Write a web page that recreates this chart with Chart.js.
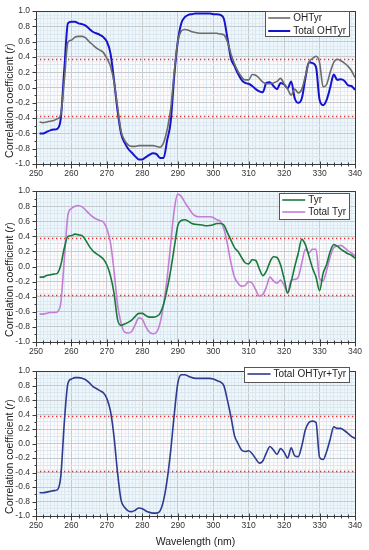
<!DOCTYPE html>
<html>
<head>
<meta charset="utf-8">
<script src="https://cdn.jsdelivr.net/npm/chart.js@4.4.0/dist/chart.umd.min.js"></script>
<style>
html,body{margin:0;padding:0;background:#fff;}
body{width:369px;height:550px;position:relative;overflow:hidden;}
.panel{position:absolute;left:0;width:369px;}
canvas{display:block;}
</style>
</head>
<body>
<div class="panel" style="top:0;height:180px"><canvas id="c1" width="369" height="180"></canvas></div>
<div class="panel" style="top:180px;height:180px"><canvas id="c2" width="369" height="180"></canvas></div>
<div class="panel" style="top:360px;height:190px"><canvas id="c3" width="369" height="190"></canvas></div>
<script>
// ---- Data ----
const wavelengths = [251,252,253,254,255,256,257,258,259,260,261,262,263,264,265,266,267,268,269,270,
  271,272,273,274,275,276,277,278,279,280,281,282,283,284,285,286,287,288,289,290,
  291,292,293,294,295,296,297,298,299,300,301,302,303,304,305,306,307,308,309,310,
  311,312,313,314,315,316,317,318,319,320,321,322,323,324,325,326,327,328,329,330,
  331,332,333,334,335,336,337,338,339,340];

const ohtyr = [-0.45,-0.46,-0.45,-0.44,-0.43,-0.41,-0.35,0.10,0.59,0.62,0.66,0.67,0.67,0.65,0.60,0.56,0.52,0.49,0.46,0.38,
  0.28,0.08,-0.25,-0.57,-0.69,-0.75,-0.77,-0.77,-0.76,-0.76,-0.76,-0.76,-0.76,-0.77,-0.78,-0.72,-0.55,-0.28,0.20,0.60,
  0.74,0.76,0.75,0.73,0.72,0.71,0.71,0.71,0.71,0.71,0.71,0.70,0.69,0.60,0.44,0.31,0.21,0.14,0.10,0.10,
  0.17,0.16,0.12,0.07,0.05,0.05,0.06,0.08,0.12,0.05,-0.02,-0.10,-0.02,-0.07,-0.02,0.15,0.33,0.38,0.41,0.33,
  0.01,0.04,0.20,0.33,0.37,0.35,0.32,0.28,0.22,0.13];

const totalOhtyr = [-0.60,-0.60,-0.58,-0.56,-0.55,-0.54,-0.40,0.25,0.84,0.86,0.86,0.84,0.83,0.81,0.77,0.73,0.71,0.69,0.66,0.60,
  0.45,0.10,-0.30,-0.60,-0.72,-0.80,-0.85,-0.90,-0.94,-0.94,-0.91,-0.88,-0.86,-0.87,-0.92,-0.92,-0.69,-0.45,0.15,0.60,
  0.84,0.92,0.95,0.96,0.97,0.97,0.97,0.97,0.97,0.96,0.96,0.95,0.90,0.65,0.38,0.28,0.18,0.10,0.06,0.05,
  0.02,-0.02,-0.05,-0.06,0.06,0.07,0.02,-0.02,0.06,0.04,-0.01,0.08,-0.14,-0.20,-0.14,0.12,0.33,0.32,0.27,-0.16,
  -0.23,-0.16,0.00,0.17,0.10,0.11,0.09,0.03,0.02,-0.03];

const tyr = [-0.14,-0.14,-0.12,-0.11,-0.10,-0.09,0.02,0.25,0.40,0.41,0.43,0.42,0.41,0.35,0.27,0.21,0.17,0.14,0.10,0.02,
  -0.12,-0.35,-0.70,-0.78,-0.76,-0.74,-0.71,-0.66,-0.62,-0.62,-0.65,-0.67,-0.67,-0.66,-0.62,-0.50,-0.30,-0.05,0.25,0.54,
  0.61,0.62,0.60,0.57,0.56,0.555,0.55,0.54,0.545,0.555,0.57,0.57,0.55,0.45,0.35,0.25,0.20,0.12,0.05,0.035,
  0.09,0.08,-0.03,-0.12,-0.06,0.06,0.13,0.12,0.02,-0.16,-0.35,-0.20,0.00,0.18,0.36,0.29,0.14,-0.02,-0.14,-0.32,
  -0.09,0.03,0.20,0.29,0.27,0.23,0.20,0.17,0.15,0.11];

const totalTyr = [-0.63,-0.63,-0.62,-0.61,-0.61,-0.60,-0.48,0.10,0.68,0.77,0.80,0.81,0.79,0.75,0.70,0.66,0.63,0.61,0.59,0.50,
  0.32,-0.05,-0.50,-0.75,-0.87,-0.88,-0.86,-0.77,-0.68,-0.70,-0.80,-0.87,-0.89,-0.87,-0.75,-0.50,-0.15,0.30,0.75,0.96,
  0.93,0.85,0.78,0.71,0.67,0.66,0.66,0.66,0.66,0.65,0.62,0.60,0.50,0.30,0.05,-0.14,-0.22,-0.26,-0.25,-0.20,
  -0.22,-0.31,-0.39,-0.37,-0.27,-0.14,-0.19,-0.22,-0.18,-0.25,-0.35,-0.18,-0.17,-0.14,0.05,0.23,0.18,0.23,0.23,-0.16,
  -0.19,-0.05,0.13,0.25,0.27,0.28,0.25,0.21,0.18,0.14];

const totalBoth = [-0.68,-0.68,-0.67,-0.66,-0.65,-0.64,-0.45,0.30,0.83,0.89,0.91,0.91,0.90,0.88,0.84,0.79,0.76,0.73,0.70,0.62,
  0.45,0.10,-0.40,-0.78,-0.88,-0.93,-0.94,-0.92,-0.89,-0.90,-0.93,-0.95,-0.96,-0.96,-0.93,-0.78,-0.50,-0.10,0.40,0.83,
  0.95,0.95,0.93,0.91,0.90,0.90,0.90,0.90,0.90,0.89,0.87,0.85,0.80,0.60,0.37,0.11,0.00,-0.09,-0.11,-0.10,
  -0.14,-0.21,-0.27,-0.24,-0.13,-0.04,-0.09,-0.15,-0.07,-0.12,-0.20,-0.06,-0.17,-0.18,-0.03,0.19,0.29,0.31,0.29,-0.19,
  -0.22,-0.11,0.06,0.23,0.21,0.21,0.18,0.14,0.10,0.07];

const criticalR = 0.375;
const xTickLabels = ['250','260','270','280','290','300','310','320','330','340'];
const yTickLabels = ['-1.0','-0.8','-0.6','-0.4','-0.2','0.0','0.2','0.4','0.6','0.8','1.0'];

const panels = [
  {id:'c1', padTop:8, xH:16, xTitle:false, legend:{right:349,y:11,h:25,rowH:13,lineW:22},
   series:[{label:'OHTyr', data:ohtyr, color:'#6b6b6b', width:1.6},
           {label:'Total OHTyr', data:totalOhtyr, color:'#1414cc', width:2}]},
  {id:'c2', padTop:7, xH:18, xTitle:false, legend:{right:349,y:13,h:26,rowH:12,lineW:23},
   series:[{label:'Tyr', data:tyr, color:'#177a3c', width:1.6},
           {label:'Total Tyr', data:totalTyr, color:'#c47ed6', width:1.6}]},
  {id:'c3', padTop:1, xH:34, xTitle:true, legend:{right:349,y:7,h:15,rowH:13,lineW:23},
   series:[{label:'Total OHTyr+Tyr', data:totalBoth, color:'#2e3b8e', width:1.6}]}
];

const FONT = '"Liberation Sans", Arial, sans-serif';

const decor = {
  id:'decor',
  beforeDraw(chart){
    const {ctx, chartArea:a, scales:{x,y}} = chart;
    ctx.save();
    ctx.fillStyle = '#edf6fb';
    ctx.fillRect(a.left, a.top, a.right-a.left, a.bottom-a.top);
    const yt = y.getPixelForValue(criticalR), yb = y.getPixelForValue(-criticalR);
    ctx.fillStyle = '#fdfbfb';
    ctx.fillRect(a.left, yt, a.right-a.left, yb-yt);
    // finest grid (every 1 nm / 0.05)
    ctx.strokeStyle = 'rgba(200,222,236,0.35)';
    ctx.lineWidth = 1;
    ctx.beginPath();
    for (let v=251; v<340; v++){ if (v%2===0) continue; const px=Math.round(x.getPixelForValue(v))+0.5; ctx.moveTo(px,a.top); ctx.lineTo(px,a.bottom);}
    for (let k=-19; k<20; k+=2){ const py=Math.round(y.getPixelForValue(k/20))+0.5; ctx.moveTo(a.left,py); ctx.lineTo(a.right,py);}
    ctx.stroke();
    ctx.restore();
  },
  beforeDatasetsDraw(chart){
    const {ctx, chartArea:a, scales:{y}} = chart;
    ctx.save();
    ctx.strokeStyle = '#e53030';
    ctx.lineWidth = 1.3;
    ctx.setLineDash([1.3,2.7]);
    [criticalR,-criticalR].forEach(v=>{
      const py = Math.round(y.getPixelForValue(v))+0.5;
      ctx.beginPath(); ctx.moveTo(a.left,py); ctx.lineTo(a.right,py); ctx.stroke();
    });
    ctx.restore();
  },
  afterDraw(chart, args, opts){
    const {ctx, chartArea:a, scales:{x,y}} = chart;
    ctx.save();
    // frame
    ctx.strokeStyle = '#3a3a3a';
    ctx.lineWidth = 1;
    ctx.strokeRect(Math.round(a.left)+0.5, Math.round(a.top)+0.5, Math.round(a.right-a.left), Math.round(a.bottom-a.top));
    // tick marks
    ctx.beginPath();
    for (let v=250; v<=340; v+=2){
      const px = Math.round(x.getPixelForValue(v))+0.5;
      const major = v%10===0;
      const b = Math.round(a.bottom)+0.5;
      ctx.moveTo(px, b); ctx.lineTo(px, b + (major?4:2));
      ctx.moveTo(px, b); ctx.lineTo(px, b - (major?3:2));
    }
    for (let k=-10; k<=10; k++){
      const py = Math.round(y.getPixelForValue(k/10))+0.5;
      const major = k%2===0;
      const l = Math.round(a.left)+0.5;
      ctx.moveTo(l, py); ctx.lineTo(l - (major?4:2), py);
    }
    ctx.stroke();
    // y title with italic r
    const cy = (a.top+a.bottom)/2 + 13;
    ctx.translate(10, cy);
    ctx.rotate(-Math.PI/2);
    ctx.fillStyle = '#222';
    ctx.textBaseline = 'middle';
    const n = '10.5px ' + FONT, it = 'italic 10.5px ' + FONT;
    const parts = [['Correlation coefficient (', n], ['r', it], [')', n]];
    let total = 0;
    parts.forEach(p=>{ ctx.font=p[1]; total += ctx.measureText(p[0]).width; });
    let tx = -total/2;
    ctx.textAlign = 'left';
    parts.forEach(p=>{ ctx.font=p[1]; ctx.fillText(p[0], tx, 0); tx += ctx.measureText(p[0]).width; });
    ctx.setTransform(1,0,0,1,0,0);
    // x title
    if (opts.xTitle){
      ctx.font = '10.5px ' + FONT;
      ctx.textAlign = 'center';
      ctx.fillStyle = '#222';
      ctx.fillText('Wavelength (nm)', (a.left+a.right)/2, a.bottom + 26);
    }
    // legend (box sized to its text, right edge fixed)
    const L = opts.legend;
    ctx.font = '10px ' + FONT;
    let maxW = 0;
    chart.data.datasets.forEach(ds=>{ maxW = Math.max(maxW, ctx.measureText(ds.label).width); });
    const w = 3 + L.lineW + 3 + maxW + 3;
    const lx = L.right - w;
    ctx.fillStyle = '#ffffff';
    ctx.fillRect(lx, L.y, w, L.h);
    ctx.strokeStyle = '#555';
    ctx.lineWidth = 1;
    ctx.strokeRect(Math.round(lx)+0.5, L.y+0.5, Math.round(w), L.h);
    ctx.textAlign = 'left';
    ctx.textBaseline = 'middle';
    chart.data.datasets.forEach((ds,i)=>{
      const ry = L.y + 7 + i*L.rowH;
      ctx.strokeStyle = ds.borderColor;
      ctx.lineWidth = ds.borderWidth;
      ctx.beginPath(); ctx.moveTo(lx+3, ry); ctx.lineTo(lx+3+L.lineW, ry); ctx.stroke();
      ctx.fillStyle = '#222';
      ctx.fillText(ds.label, lx+6+L.lineW, ry+0.5);
    });
    ctx.restore();
  }
};

panels.forEach(p=>{
  new Chart(document.getElementById(p.id), {
    type:'line',
    data:{
      datasets: p.series.map(s=>({
        label:s.label,
        data: wavelengths.map((w,i)=>({x:w, y:s.data[i]})),
        borderColor:s.color, backgroundColor:s.color, borderWidth:s.width,
        pointRadius:0, tension:0.3, cubicInterpolationMode:'monotone', fill:false
      }))
    },
    plugins:[decor],
    options:{
      responsive:false, animation:false, devicePixelRatio:1,
      layout:{padding:{top:p.padTop, right:14, left:0, bottom:0}},
      plugins:{legend:{display:false}, tooltip:{enabled:false},
        decor:{legend:p.legend, xTitle:p.xTitle}},
      scales:{
        x:{type:'linear', min:250, max:340,
          afterFit(s){ s.height = p.xH; },
          border:{display:false},
          grid:{drawTicks:false, color:c=> (Math.round(c.tick.value)%10===0 ? '#c6cbd0' : '#dbe6ee'), lineWidth:1},
          ticks:{stepSize:2, autoSkip:false, maxRotation:0, padding:5, color:'#333',
            font:{family:FONT, size:8.5},
            callback:v=>{ const lbl = String(Math.round(v)); return xTickLabels.includes(lbl) ? lbl : ''; }}
        },
        y:{type:'linear', min:-1, max:1,
          afterFit(s){ s.width = 36; },
          border:{display:false},
          grid:{drawTicks:false, color:c=> (Math.round(c.tick.value*10)%2===0 ? '#c6cbd0' : '#dbe6ee'), lineWidth:1},
          ticks:{stepSize:0.1, autoSkip:false, padding:6, color:'#333',
            font:{family:FONT, size:8.5},
            callback:v=>{ const lbl = (Math.abs(v)<1e-9?0:v).toFixed(1); return (Math.round(v*10)%2===0 && yTickLabels.includes(lbl)) ? lbl : ''; }}
        }
      }
    }
  });
});
</script>
</body>
</html>
